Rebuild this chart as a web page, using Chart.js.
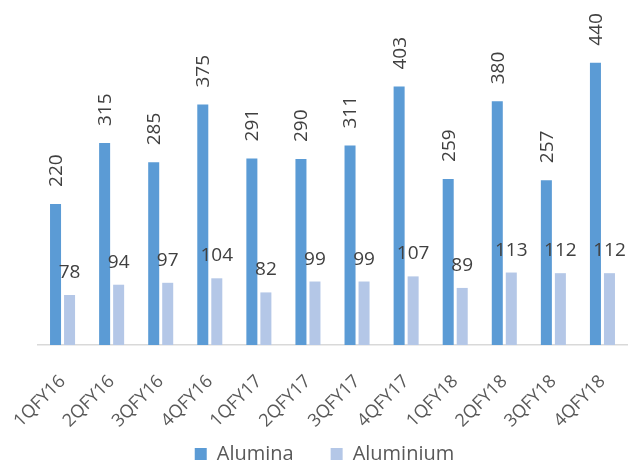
<!DOCTYPE html>
<html>
<head>
<meta charset="utf-8">
<script src="https://cdn.jsdelivr.net/npm/chart.js@4"></script>
<style>
  html, body { margin: 0; padding: 0; background: #fff; }
  #wrap { width: 628px; height: 462px; }
</style>
</head>
<body>
<div id="wrap"><canvas id="myChart" width="628" height="462"></canvas></div>
<script>
// chart data
const quarters = ['1QFY16', '2QFY16', '3QFY16', '4QFY16', '1QFY17', '2QFY17',
    '3QFY17', '4QFY17', '1QFY18', '2QFY18', '3QFY18', '4QFY18'];
const alumina = [220, 315, 285, 375, 291, 290, 311, 403, 259, 380, 257, 440];
const aluminium = [78, 94, 97, 104, 82, 99, 99, 107, 89, 113, 112, 112];

const fontFamily = "'Open Sans', 'Noto Sans', sans-serif";

// draws value labels over the bars (no datalabels plugin offline)
const valueLabels = {
    id: 'valueLabels',
    afterInit(chart) {
        // fixed legend height so the plot bottom lands where it should
        const legend = chart.legend;
        const origFit = legend.fit;
        legend.fit = function () {
            origFit.call(this);
            this.height = 31;
        };
    },
    afterLayout(chart) {
        // legend uses its padding on top too, pull it up so the wide gap stays
        chart.legend.top = 407;
        chart.legend.left = 22;
    },
    afterDatasetsDraw(chart) {
        const ctx = chart.ctx;
        ctx.save();
        ctx.font = '19px ' + fontFamily;
        ctx.fillStyle = '#404040';
        chart.data.datasets.forEach((ds, i) => {
            const meta = chart.getDatasetMeta(i);
            meta.data.forEach((bar, j) => {
                const txt = String(ds.data[j]);
                if (i === 0) {
                    // rotated labels for Alumina
                    ctx.save();
                    ctx.translate(bar.x + 1, bar.y - 17);
                    ctx.rotate(-Math.PI / 2);
                    ctx.textAlign = 'left';
                    ctx.textBaseline = 'middle';
                    ctx.fillText(txt, 0, 0);
                    ctx.restore();
                } else {
                    ctx.textAlign = 'center';
                    ctx.textBaseline = 'alphabetic';
                    ctx.fillText(txt, bar.x, bar.y - 17);
                }
            });
        });
        ctx.restore();
    }
};

let ctx = document.getElementById('myChart').getContext('2d');

let myChart = new Chart(ctx, {
    type: 'bar',
    data: {
        labels: quarters,
        datasets: [
            {
                label: 'Alumina',
                backgroundColor: '#5B9BD5',
                data: alumina,
                categoryPercentage: 0.571,
                barPercentage: 0.786
            },
            {
                label: 'Aluminium',
                backgroundColor: '#B4C7E7',
                data: aluminium,
                categoryPercentage: 0.571,
                barPercentage: 0.786
            }
        ]
    },
    options: {
        responsive: false,
        animation: false,
        layout: { padding: { left: 38, right: 1, top: 0, bottom: 0 } },
        plugins: {
            legend: {
                position: 'bottom',
                labels: {
                    boxWidth: 12,
                    boxHeight: 12,
                    padding: 37,
                    color: '#595959',
                    font: { size: 20, family: fontFamily }
                }
            },
            tooltip: { enabled: false }
        },
        scales: {
            x: {
                grid: { display: false },
                border: { display: true, color: '#D9D9D9', width: 1.5 },
                afterFit(scale) {
                    scale.height = 86;
                    // labels may spill out left, the plot edge is fixed by layout padding
                    scale.paddingLeft = 0;
                    scale.paddingRight = 0;
                },
                ticks: {
                    minRotation: 45,
                    maxRotation: 45,
                    color: '#595959',
                    padding: 18,
                    font: { size: 18, family: fontFamily }
                }
            },
            y: {
                display: false,
                min: 0,
                max: 538
            }
        }
    },
    plugins: [valueLabels]
});
</script>
</body>
</html>
